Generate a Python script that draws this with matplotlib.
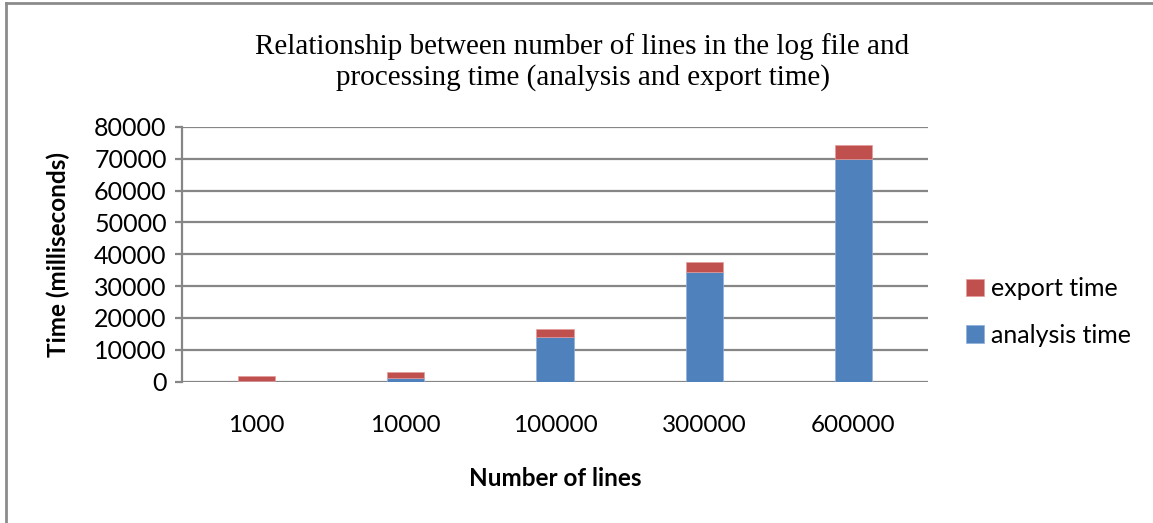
import matplotlib
matplotlib.use("Agg")
import matplotlib.pyplot as plt
from matplotlib.lines import Line2D
import numpy as np

# Data: processing time (ms) per log file size
line_counts = ["1000", "10000", "100000", "300000", "600000"]
analysis_time = [100, 1150, 14100, 34300, 69800]
export_time = [1700, 1800, 2450, 3150, 4600]

y_ticks = [0, 10000, 20000, 30000, 40000, 50000, 60000, 70000, 80000]

BLUE = "#4F81BD"
RED = "#C0504D"
GRID = "#868686"
SANS = "Lato"
SERIF = "Liberation Serif"

W, H, DPI = 1153, 523, 100
fig = plt.figure(figsize=(W / DPI, H / DPI), dpi=DPI)
fig.patch.set_facecolor("white")

ax = fig.add_axes([182 / W, 1 - 381.5 / H, (928 - 182) / W, (381.5 - 127) / H])

x = np.arange(len(line_counts))
bar_w = 0.25
b_analysis = ax.bar(x, analysis_time, width=bar_w, color=BLUE, zorder=3,
                    edgecolor="#8eaedb", linewidth=0.5, label="analysis time")
b_export = ax.bar(x, export_time, width=bar_w, bottom=analysis_time, color=RED,
                  zorder=3, edgecolor="#e39c9a", linewidth=0.5, label="export time")

ax.set_xlim(-0.5, len(line_counts) - 0.5)
ax.set_ylim(0, 80000)
ax.set_yticks(y_ticks)
ax.set_yticklabels([str(v) for v in y_ticks], fontfamily=SANS, fontsize=18)
ax.set_xticks(x)
ax.set_xticklabels(line_counts, fontfamily=SANS, fontsize=17.5)

ax.yaxis.grid(True, color=GRID, linewidth=1.6, zorder=0)
ax.set_axisbelow(True)
for side in ("top", "right", "bottom"):
    ax.spines[side].set_visible(False)
ax.spines["left"].set_color(GRID)
ax.spines["left"].set_linewidth(1.6)
ax.tick_params(axis="y", length=5, width=1.6, color=GRID, pad=6)
ax.tick_params(axis="x", length=0, pad=24)

ax.set_ylabel("Time (milliseconds)", fontfamily=SANS, fontsize=17.5, fontweight="bold",
              labelpad=17)
ax.set_xlabel("Number of lines", fontfamily=SANS, fontsize=17.5, fontweight="bold",
              labelpad=22.5)

fig.text(582.5 / W, 1 - 62 / H,
         "Relationship between number of lines in the log file and\n"
         "processing time (analysis and export time)",
         ha="center", va="center", fontfamily=SERIF, fontsize=21, linespacing=1.2)

leg = fig.legend(handles=[b_export, b_analysis], labels=["export time", "analysis time"],
                 loc="upper left", bbox_to_anchor=(956 / W, 1 - 267 / H),
                 frameon=False, prop={"family": SANS, "size": 18},
                 handlelength=0.7, handleheight=0.7, handletextpad=0.3,
                 labelspacing=0.95, borderaxespad=0)

# outer chart frame
fig.add_artist(Line2D([6 / W, 6 / W], [0, 1 - 3 / H], transform=fig.transFigure,
                      color="#8c8c8c", linewidth=2))
fig.add_artist(Line2D([6 / W, 1], [1 - 3 / H, 1 - 3 / H], transform=fig.transFigure,
                      color="#8c8c8c", linewidth=2))

fig.savefig("out.png", dpi=DPI)
